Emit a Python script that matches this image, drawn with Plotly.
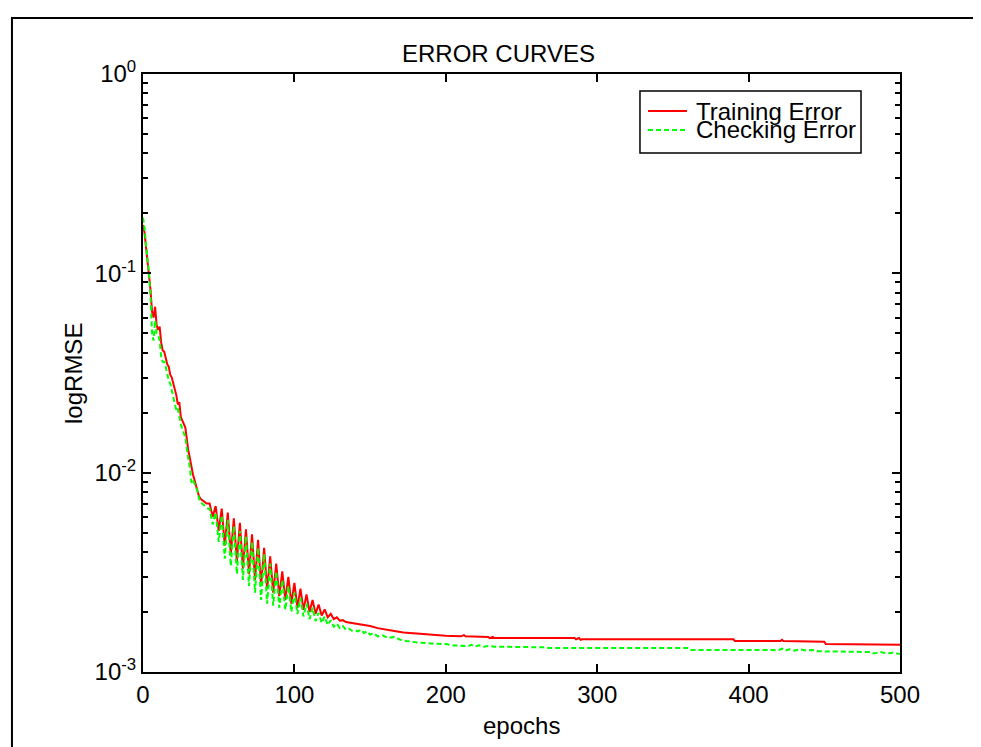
import plotly.graph_objects as go

# epochs 0..43, one value per epoch
start_epochs = list(range(0, 44))
train_start = [0.175, 0.16, 0.135, 0.115, 0.10, 0.082, 0.064, 0.060, 0.068, 0.055,
               0.052, 0.054, 0.045, 0.041, 0.0405, 0.038, 0.035, 0.034, 0.031, 0.030,
               0.028, 0.026, 0.0245, 0.022, 0.0225, 0.019, 0.018, 0.0175, 0.0168, 0.0145,
               0.0128, 0.0118, 0.0105, 0.0098, 0.0092, 0.0086, 0.0083, 0.0076, 0.0074, 0.0073,
               0.0072, 0.0071, 0.0070, 0.0070]
check_start = [0.19, 0.17, 0.14, 0.118, 0.10, 0.075, 0.05, 0.046, 0.058, 0.05,
               0.049, 0.046, 0.038, 0.036, 0.036, 0.034, 0.031, 0.029, 0.028, 0.026,
               0.024, 0.022, 0.0205, 0.021, 0.019, 0.0175, 0.0165, 0.0158, 0.015, 0.013,
               0.0118, 0.0105, 0.0089, 0.0092, 0.0088, 0.0084, 0.0081, 0.0074, 0.0071, 0.0070,
               0.0069, 0.0068, 0.0067, 0.0066]

# oscillating part, every 2 epochs from 44 to 140
osc_epochs = list(range(44, 142, 2))
train_osc = [0.0070, 0.0060, 0.0068, 0.0051, 0.0066, 0.0043, 0.0063, 0.0039, 0.0059, 0.0036,
             0.0056, 0.0033, 0.0052, 0.0031, 0.0049, 0.0029, 0.0046, 0.0027, 0.0042, 0.0026,
             0.0038, 0.0025, 0.0035, 0.0024, 0.0032, 0.0023, 0.0030, 0.0022, 0.0028, 0.0021,
             0.00262, 0.00205, 0.00245, 0.0020, 0.0023, 0.00196, 0.00218, 0.00192, 0.00206, 0.00188,
             0.00196, 0.00184, 0.00188, 0.00181, 0.00182, 0.00178, 0.00177, 0.00175, 0.00174]
check_osc = [0.0066, 0.0055, 0.0063, 0.0045, 0.0061, 0.0037, 0.0058, 0.0034, 0.0054, 0.0031,
             0.0051, 0.0029, 0.0048, 0.0027, 0.0045, 0.0025, 0.0042, 0.0023, 0.0039, 0.0022,
             0.0035, 0.00215, 0.0032, 0.0021, 0.0029, 0.00205, 0.0027, 0.0020, 0.0025, 0.00195,
             0.00235, 0.0019, 0.0022, 0.00184, 0.0021, 0.0018, 0.00198, 0.00176, 0.0019, 0.00172,
             0.00182, 0.00169, 0.00175, 0.00166, 0.0017, 0.00163, 0.00165, 0.00161, 0.00162]

# flat tail
train_tail_epochs = [145, 150, 155, 160, 165, 172, 180, 190, 200, 210, 212, 213, 228, 229, 231,
                     232, 285, 286, 288, 289, 290, 390, 391, 421, 422, 423, 450, 451, 500]
train_tail = [0.00173, 0.00170, 0.00166, 0.00163, 0.00161, 0.00158, 0.00156, 0.00154, 0.00152,
              0.00151, 0.00153, 0.00151, 0.00150, 0.00148, 0.00150, 0.00148, 0.00148, 0.00146,
              0.00148, 0.00145, 0.00146, 0.00146, 0.00143, 0.00143, 0.00145, 0.00143, 0.00142,
              0.00138, 0.00137]
check_tail_epochs = [142, 144, 146, 148, 150, 152, 155, 158, 162, 166, 170, 174, 180, 190, 200,
                     205, 215, 217, 219, 222, 225, 228, 232, 265, 268, 360, 362, 420, 422, 424,
                     427, 430, 434, 438, 442, 446, 470, 480, 483, 487, 491, 495, 500]
check_tail = [0.00160, 0.00163, 0.00157, 0.00160, 0.00154, 0.00157, 0.00151, 0.00153, 0.00148,
              0.00150, 0.00145, 0.00143, 0.00141, 0.00139, 0.00138, 0.00136, 0.00135, 0.00137,
              0.00134, 0.00136, 0.00134, 0.00135, 0.00134, 0.00133, 0.00132, 0.00132, 0.00129,
              0.00129, 0.00131, 0.00128, 0.00130, 0.00128, 0.00130, 0.00128, 0.00129, 0.00127,
              0.00126, 0.00126, 0.00124, 0.00126, 0.00124, 0.00125, 0.00123]

y_tickvals = [1e-3, 1e-2, 1e-1, 1]
y_ticktext = ["10<sup>-3</sup>", "10<sup>-2</sup>", "10<sup>-1</sup>", "10<sup>0</sup>"]
y_minor = [m * d for d in (1e-3, 1e-2, 1e-1) for m in range(2, 10)]
x_tickvals = [0, 100, 200, 300, 400, 500]

train_x = start_epochs + osc_epochs + train_tail_epochs
train_y = train_start + train_osc + train_tail
check_x = start_epochs + osc_epochs + check_tail_epochs
check_y = check_start + check_osc + check_tail

FONT = "Liberation Sans, Arial, sans-serif"

fig = go.Figure()
fig.add_trace(go.Scatter(x=train_x, y=train_y, mode="lines", name="Training Error",
                         line=dict(color="#ff0000", width=2)))
fig.add_trace(go.Scatter(x=check_x, y=check_y, mode="lines", name="Checking Error",
                         line=dict(color="#00ff00", width=2, dash="5px,3px")))

axis_common = dict(showline=True, linecolor="black", linewidth=2, mirror="allticks",
                   ticks="inside", tickcolor="black", tickwidth=1.5, ticklen=8,
                   showgrid=False, zeroline=False, tickfont=dict(size=24, color="black"))

fig.update_xaxes(range=[0, 500], tickvals=x_tickvals, **axis_common)
fig.update_yaxes(type="log", range=[-3, 0], tickvals=y_tickvals, ticktext=y_ticktext,
                 minor=dict(tickvals=y_minor, ticks="inside", ticklen=5, tickcolor="black",
                            tickwidth=1.5, showgrid=False),
                 **axis_common)

# hand-drawn MATLAB style legend box and outer frame
lx0, lx1, ly0, ly1 = 0.6565, 0.9485, 0.8679, 0.9716
shapes = [
    dict(type="rect", xref="paper", yref="paper", x0=-0.1731, x1=1.2, y0=-0.2, y1=1.0936,
         line=dict(color="black", width=2), fillcolor="rgba(0,0,0,0)", layer="below"),
    dict(type="rect", xref="paper", yref="paper", x0=lx0, x1=lx1, y0=ly0, y1=ly1,
         line=dict(color="black", width=1.5), fillcolor="white"),
    dict(type="line", xref="paper", yref="paper", x0=0.6671, x1=0.7186, y0=0.9381, y1=0.9381,
         line=dict(color="#ff0000", width=2)),
    dict(type="line", xref="paper", yref="paper", x0=0.6671, x1=0.7186, y0=0.9064, y1=0.9064,
         line=dict(color="#00ff00", width=2, dash="5px,3px")),
]
annotations = [
    dict(text="Training Error", xref="paper", yref="paper", x=0.7279, y=0.9381,
         xanchor="left", yanchor="middle", showarrow=False, font=dict(size=24)),
    dict(text="Checking Error", xref="paper", yref="paper", x=0.7279, y=0.9064,
         xanchor="left", yanchor="middle", showarrow=False, font=dict(size=24)),
    dict(text="epochs", xref="paper", yref="paper", x=0.5, y=-0.0903,
         xanchor="center", yanchor="middle", showarrow=False, font=dict(size=24)),
    dict(text="logRMSE", xref="paper", yref="paper", x=-0.0925, y=0.5, textangle=-90,
         xanchor="center", yanchor="middle", showarrow=False, font=dict(size=24)),
]

fig.update_layout(
    width=981, height=747,
    margin=dict(l=135, r=89, t=66, b=83),
    paper_bgcolor="white", plot_bgcolor="white",
    font=dict(family=FONT, color="black", size=24),
    title=dict(text="ERROR CURVES", x=0.5, xref="container", xanchor="center",
               y=1 - 46 / 747, yanchor="middle", font=dict(size=24)),
    showlegend=False,
    shapes=shapes,
    annotations=annotations,
)

fig.write_html("out.html")
